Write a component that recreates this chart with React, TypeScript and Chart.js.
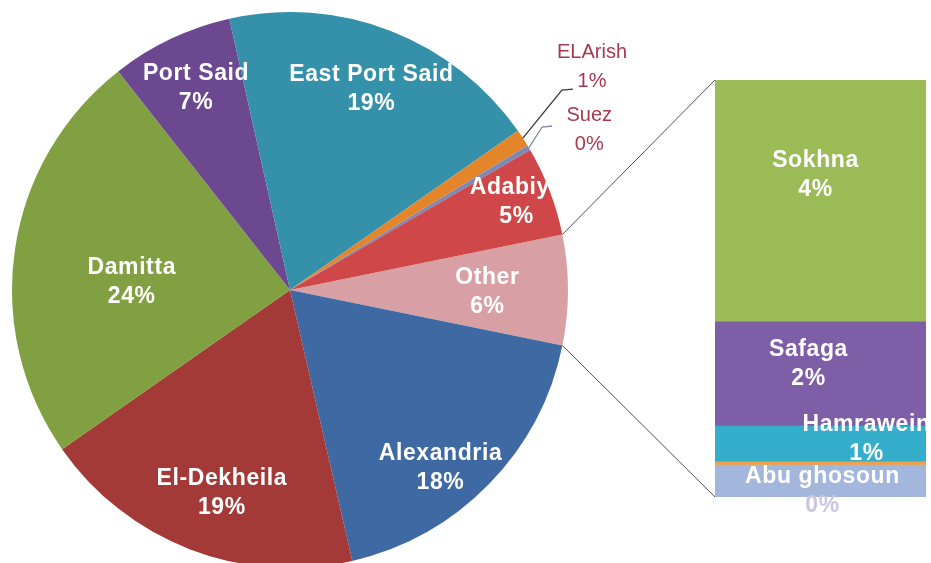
import React, { useEffect, useRef } from "react";
import { Chart, registerables } from "chart.js";

Chart.register(...registerables);

// ---------- data ----------
const pieNames = ["Other", "Alexandria", "El-Dekheila", "Damitta", "Port Said", "East Port Said", "ELArish", "Suez", "Adabiya"];
const pieValues = [6.4, 18.2, 18.9, 24.1, 7.1, 18.8, 1.0, 0.3, 5.2];
const pieColors = ["#D8A0A4", "#3E69A3", "#A43A38", "#80A041", "#6C4891", "#3591A9", "#E5852A", "#7C88B6", "#CF4749"];

// "Other" broken down (bottom to top of the bar)
const barNames = ["Abu ghosoun", "", "Hamrawein", "Safaga", "Sokhna"];
const barValues = [0.49, 0.05, 0.55, 1.6, 3.71];
const barColors = ["#A3B6DC", "#F2A043", "#35AECB", "#7F5EA8", "#9BBB57"];

// ---------- label layout (styling only) ----------
// f: fraction of radius, da: angle nudge (deg); outside labels get a leader
const pieLabelLayout = [
  { f: 0.71, da: 0.5 },
  { f: 0.84, da: 5.6 },
  { f: 0.77, da: -2.5 },
  { f: 0.57, da: -5.5 },
  { f: 0.8, da: 0.4 },
  { f: 0.78, da: 0.8 },
  { f: 1.35, da: -3.3, outside: true, leader: { f: 1.214, da: -3.2, len: 11 } },
  { f: 1.22, da: 2.7, outside: true, leader: { f: 1.08, da: -2.1, len: 10 } },
  { f: 0.874, da: -0.3 },
];
const barLabelOffsets = [
  { dx: 2, dy: 10 },
  null,
  { dx: 46, dy: -5 },
  { dx: -12, dy: -10 },
  { dx: -5, dy: -26 },
];

const FONT_BOLD = "bold 23px 'Liberation Sans', Arial, sans-serif";
const FONT_OUT = "20px 'Liberation Sans', Arial, sans-serif";
const LINE_H = 29;

const pieTotal = pieValues.reduce((a, b) => a + b, 0);
const barTotal = barValues.reduce((a, b) => a + b, 0);
const pct = (v: number) => Math.round((v / pieTotal) * 100) + "%";

function drawLines(ctx: CanvasRenderingContext2D, lines: string[], x: number, y: number, colors: string[]) {
  const n = lines.length;
  lines.forEach((t, k) => {
    ctx.fillStyle = colors[k];
    ctx.fillText(t, x, y + (k - (n - 1) / 2) * LINE_H);
  });
}

const pieLabelPlugin = {
  id: "pieLabelPlugin",
  afterDatasetsDraw(chart: any) {
    const ctx: CanvasRenderingContext2D = chart.ctx;
    const meta = chart.getDatasetMeta(0);
    ctx.save();
    ctx.textAlign = "center";
    ctx.textBaseline = "middle";
    meta.data.forEach((arc: any, i: number) => {
      const p = arc.getProps(["x", "y", "startAngle", "endAngle", "outerRadius"], true);
      const mid = (p.startAngle + p.endAngle) / 2;
      const lay: any = pieLabelLayout[i];
      const a = mid + (lay.da * Math.PI) / 180;
      const r = p.outerRadius * lay.f;
      const lx = p.x + r * Math.cos(a);
      const ly = p.y + r * Math.sin(a);
      if (lay.leader) {
        const sx = p.x + p.outerRadius * Math.cos(mid);
        const sy = p.y + p.outerRadius * Math.sin(mid);
        const ea = mid + (lay.leader.da * Math.PI) / 180;
        const ex = p.x + p.outerRadius * lay.leader.f * Math.cos(ea);
        const ey = p.y + p.outerRadius * lay.leader.f * Math.sin(ea);
        ctx.beginPath();
        ctx.moveTo(sx, sy);
        ctx.lineTo(ex, ey);
        ctx.lineTo(ex + lay.leader.len, ey - 1);
        ctx.strokeStyle = i === 6 ? "#3a3a3a" : "#7d8597";
        ctx.lineWidth = 1.3;
        ctx.stroke();
      }
      if (lay.outside) {
        ctx.font = FONT_OUT;
        (ctx as any).letterSpacing = "0px";
        drawLines(ctx, [pieNames[i], pct(pieValues[i])], lx, ly, ["#A8384F", "#A8384F"]);
      } else {
        ctx.font = FONT_BOLD;
        (ctx as any).letterSpacing = "0.6px";
        drawLines(ctx, [pieNames[i], pct(pieValues[i])], lx, ly, ["#ffffff", "#ffffff"]);
      }
    });
    ctx.restore();
  },
};

function makeConnectorPlugin(pie: any) {
  return {
    id: "connectorPlugin",
    beforeDatasetsDraw(chart: any) {
      const ctx: CanvasRenderingContext2D = chart.ctx;
      const arc = pie.getDatasetMeta(0).data[0];
      if (!arc) return;
      const p = arc.getProps(["x", "y", "startAngle", "endAngle", "outerRadius"], true);
      const { left, top, bottom } = chart.chartArea;
      ctx.save();
      ctx.strokeStyle = "#505050";
      ctx.lineWidth = 1;
      ctx.beginPath();
      ctx.moveTo(p.x + p.outerRadius * Math.cos(p.startAngle), p.y + p.outerRadius * Math.sin(p.startAngle));
      ctx.lineTo(left, top);
      ctx.moveTo(p.x + p.outerRadius * Math.cos(p.endAngle), p.y + p.outerRadius * Math.sin(p.endAngle));
      ctx.lineTo(left, bottom);
      ctx.stroke();
      ctx.restore();
    },
  };
}

const barLabelPlugin = {
  id: "barLabelPlugin",
  afterDatasetsDraw(chart: any) {
    const ctx: CanvasRenderingContext2D = chart.ctx;
    const area = chart.chartArea;
    ctx.save();
    ctx.textAlign = "center";
    ctx.textBaseline = "middle";
    ctx.font = FONT_BOLD;
    (ctx as any).letterSpacing = "0.6px";
    barNames.forEach((name, i) => {
      const off = barLabelOffsets[i];
      if (!name || !off) return;
      const el = chart.getDatasetMeta(i).data[0];
      const p = el.getProps(["x", "y", "base"], true);
      const cx = p.x + off.dx;
      const cy = (p.y + p.base) / 2 + off.dy;
      const lines = [name, pct(barValues[i])];
      const colors = lines.map((_, k) => {
        const ty = cy + (k - 0.5) * LINE_H;
        return ty > area.bottom ? "#CBC5DE" : "#ffffff";
      });
      drawLines(ctx, lines, cx, cy, colors);
    });
    ctx.restore();
  },
};

export default function App() {
  const pieRef = useRef<HTMLCanvasElement>(null);
  const barRef = useRef<HTMLCanvasElement>(null);

  useEffect(() => {
    document.body.style.margin = "0";
    document.body.style.overflow = "hidden";
    const pie = new Chart(pieRef.current as HTMLCanvasElement, {
      type: "pie",
      data: {
        labels: pieNames,
        datasets: [
          {
            data: pieValues,
            backgroundColor: pieColors,
            borderWidth: 0,
          },
        ],
      },
      options: {
        responsive: false,
        animation: false,
        rotation: 90 - (pieValues[0] / pieTotal) * 180,
        layout: { padding: { left: 12, right: 363, top: 12, bottom: 12 } },
        plugins: { legend: { display: false }, tooltip: { enabled: false } },
      },
      plugins: [pieLabelPlugin],
    } as any);

    const bar = new Chart(barRef.current as HTMLCanvasElement, {
      type: "bar",
      data: {
        labels: ["Other"],
        datasets: barNames.map((n, i) => ({
          label: n,
          data: [barValues[i]],
          backgroundColor: barColors[i],
          borderWidth: 0,
          barPercentage: 1,
          categoryPercentage: 1,
        })),
      },
      options: {
        responsive: false,
        animation: false,
        layout: { padding: { left: 715, right: 5, top: 80, bottom: 83 } },
        scales: {
          x: { display: false, stacked: true },
          y: { display: false, stacked: true, min: 0, max: barTotal },
        },
        plugins: { legend: { display: false }, tooltip: { enabled: false } },
      },
      plugins: [makeConnectorPlugin(pie), barLabelPlugin],
    } as any);

    return () => {
      bar.destroy();
      pie.destroy();
    };
  }, []);

  return (
    <div style={{ position: "relative", width: 931, height: 563, overflow: "hidden", background: "#ffffff" }}>
      <canvas ref={pieRef} width={931} height={580} style={{ position: "absolute", left: 0, top: 0 }} />
      <canvas ref={barRef} width={931} height={580} style={{ position: "absolute", left: 0, top: 0 }} />
    </div>
  );
}
